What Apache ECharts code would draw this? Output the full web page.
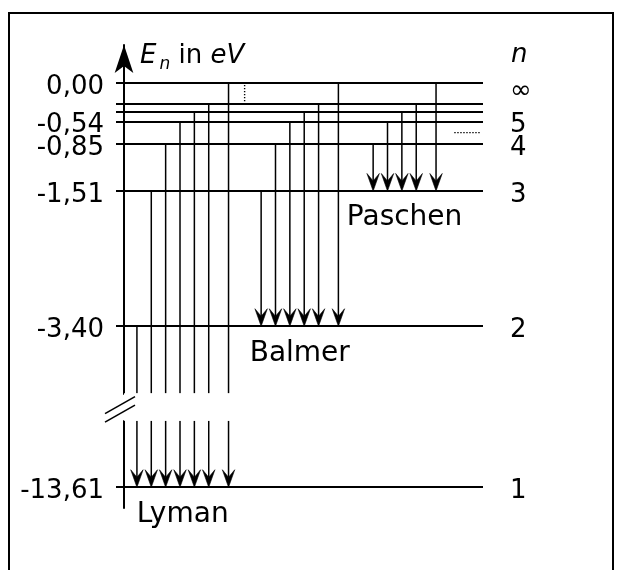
<!DOCTYPE html>
<html>
<head>
<meta charset="utf-8">
<script src="https://cdn.jsdelivr.net/npm/echarts@6/dist/echarts.min.js"></script>
<style>
  html, body { margin: 0; padding: 0; background: #fff; }
  #chart { width: 624px; height: 570px; }
</style>
</head>
<body>
<div id="chart"></div>
<script>
// Energy levels of the hydrogen atom (n = 1 … 7 and ∞), in eV
const levelN = ['1', '2', '3', '4', '5', '6', '7', '∞'];
const levelEnergy = [-13.61, -3.40, -1.51, -0.85, -0.54, -0.40, -0.29, 0.00];

// Levels that carry a label on the energy axis and in the n column
const labelledEnergy = [0.00, -0.54, -0.85, -1.51, -3.40, -13.61];
const labelledN = ['∞', '5', '4', '3', '2', '1'];

// Spectral series and the level n each one ends on
const seriesNames = ['Lyman', 'Balmer', 'Paschen'];
const seriesLowerN = ['1', '2', '3'];

// ---- layout -------------------------------------------------------------
const FONT = 'DejaVu Sans';
const X_MAX = 25;                       // width of the diagram in arrow slots
const seriesStart = [0.9, 9.55, 17.35]; // slot of the first arrow of each series
const INF_EXTRA = 0.38;                 // extra room before the transition from ∞
const BREAK = { start: -12.68, end: -4.34 };
const ARROW_H = 17.5, ARROW_W = 6.2, ARROW_NOTCH = 10;

// transitions: [x slot, upper energy, lower energy, series index]
const transitions = [];
const seriesLabels = [];
seriesLowerN.forEach((low, s) => {
  const lowIdx = levelN.indexOf(low);
  let last = 0;
  for (let k = lowIdx + 1; k < levelN.length; k++) {
    const x = seriesStart[s] + (k - lowIdx - 1) + (levelN[k] === '∞' ? INF_EXTRA : 0);
    transitions.push([x, levelEnergy[k], levelEnergy[lowIdx], s]);
    last = x;
  }
  // name written under the arrows it belongs to
  seriesLabels.push([(seriesStart[s] + last) / 2, levelEnergy[lowIdx], s]);
});

const idxOf = (arr, v) => arr.findIndex(a => Math.abs(a - v) < 1e-6);

function seg(p, q, style) {
  return { type: 'line', shape: { x1: p[0], y1: p[1], x2: q[0], y2: q[1] }, style };
}

function renderTransition(params, api) {
  const x = api.value(0), from = api.value(1), to = api.value(2);
  const top = api.coord([x, from]);
  const tip = api.coord([x, to]);
  const neck = [tip[0], tip[1] - ARROW_NOTCH];
  const st = { stroke: '#000', lineWidth: 1.5 };
  const children = [];
  if (from > BREAK.end && to < BREAK.start) {
    children.push(seg(top, api.coord([x, BREAK.end]), st));
    children.push(seg(api.coord([x, BREAK.start]), neck, st));
  } else {
    children.push(seg(top, neck, st));
  }
  children.push({
    type: 'polygon',
    shape: { points: [
      [tip[0], tip[1]],
      [tip[0] - ARROW_W, tip[1] - ARROW_H],
      [tip[0], tip[1] - ARROW_NOTCH],
      [tip[0] + ARROW_W, tip[1] - ARROW_H]
    ] },
    style: { fill: '#000', stroke: '#000', lineWidth: 0.6, lineJoin: 'miter' }
  });
  return { type: 'group', children };
}

function renderSeriesLabel(params, api) {
  const p = api.coord([api.value(0), api.value(1)]);
  return {
    type: 'text',
    x: p[0], y: p[1] + 13,
    style: {
      text: seriesNames[api.value(2)],
      font: '28px "' + FONT + '"',
      fill: '#000', align: 'center', verticalAlign: 'top'
    }
  };
}

// dotted hints for further levels / transitions, the "//" axis break mark
// and the heading of the n column
function renderDecor(params, api) {
  if (params.dataIndex > 0) return null;
  const dot = { stroke: '#000', lineWidth: 1.4, lineDash: [1.4, 1.6] };
  const v1 = api.coord([8.4, levelEnergy[7]]);
  const v2 = api.coord([8.4, levelEnergy[6]]);
  const midE = (levelEnergy[4] + levelEnergy[3]) / 2;
  const h1 = api.coord([23.0, midE]);
  const h2 = api.coord([24.8, midE]);
  const gTop = api.coord([0, BREAK.end]);
  const gBot = api.coord([0, BREAK.start]);
  const cx = gTop[0] - 4, cy = (gTop[1] + gBot[1]) / 2 + 2;
  const st = { stroke: '#000', lineWidth: 1.6 };
  const head = api.coord([X_MAX, levelEnergy[7]]);
  return {
    type: 'group',
    children: [
      seg([v1[0], v1[1] + 2], [v2[0], v2[1] - 2], dot),
      seg(h1, h2, dot),
      { type: 'rect', shape: { x: cx - 16, y: cy - 9, width: 32, height: 18 }, style: { fill: '#fff' } },
      seg([cx - 15, cy + 4.5], [cx + 15, cy - 12.5], st),
      seg([cx - 15, cy + 13], [cx + 15, cy - 4], st),
      {
        type: 'text', x: head[0] + 28, y: head[1] - 15,
        style: { text: 'n', font: 'italic 26px "' + FONT + '"', fill: '#000', align: 'left', verticalAlign: 'bottom' }
      }
    ]
  };
}

const yBase = {
  type: 'value',
  min: -13.9,
  max: 0.53,
  breaks: [{ start: BREAK.start, end: BREAK.end, gap: 0.38 }],
  breakArea: {
    show: true,
    itemStyle: { color: '#fff', borderColor: '#fff', borderWidth: 0, opacity: 1 },
    zigzagAmplitude: 0,
    zigzagZ: 100,
    expandOnClick: false
  },
  splitLine: { show: false },
  splitArea: { show: false }
};

const labelFont = { fontFamily: FONT, fontSize: 26, color: '#000', padding: [8, 0, 0, 0] };
const infFont = { fontFamily: FONT, fontSize: 26, color: '#000', padding: [17, 0, 0, 0] };

const chart = echarts.init(document.getElementById('chart'), null, { renderer: 'canvas' });
chart.setOption({
  animation: false,
  backgroundColor: '#fff',
  grid: { left: 124, right: 141, top: 45, bottom: 62 },
  xAxis: { type: 'value', min: 0, max: X_MAX, show: false },
  yAxis: [
    Object.assign({}, yBase, {
      position: 'left',
      axisLine: {
        show: true, onZero: false,
        symbol: ['none', 'arrow'], symbolSize: [14, 28],
        lineStyle: { color: '#000', width: 2 }
      },
      axisTick: { show: true, customValues: levelEnergy, length: 8, lineStyle: { color: '#000', width: 2 } },
      axisLabel: {
        customValues: labelledEnergy,
        formatter: v => '{v|' + v.toFixed(2).replace('.', ',') + '}',
        rich: { v: labelFont },
        fontFamily: FONT, fontSize: 26, color: '#000', margin: 20
      },
      name: '{i|E}{sub|n}{r| in }{i|eV}',
      nameLocation: 'end',
      nameGap: -11,
      nameMoveOverlap: false,
      nameTextStyle: {
        align: 'left', verticalAlign: 'middle', padding: [0, 0, 0, 16],
        rich: {
          i: { fontFamily: FONT, fontStyle: 'italic', fontSize: 26, lineHeight: 30, color: '#000' },
          sub: { fontFamily: FONT, fontStyle: 'italic', fontSize: 17, lineHeight: 34, verticalAlign: 'bottom', color: '#000', padding: [0, 0, 0, 3] },
          r: { fontFamily: FONT, fontSize: 26, lineHeight: 30, color: '#000' }
        }
      }
    }),
    Object.assign({}, yBase, {
      position: 'right',
      axisLine: { show: false },
      axisTick: { show: false },
      axisLabel: {
        customValues: labelledEnergy,
        formatter: v => {
          const n = labelledN[idxOf(labelledEnergy, v)];
          return (n === '∞' ? '{inf|' : '{v|') + n + '}';
        },
        rich: { v: labelFont, inf: infFont },
        fontFamily: FONT, fontSize: 26, color: '#000', margin: 27
      }
    })
  ],
  graphic: [{
    type: 'rect', z: -10,
    shape: { x: 9, y: 13, width: 604, height: 600 },
    style: { fill: 'none', stroke: '#000', lineWidth: 2 }
  }],
  series: [
    {
      name: 'Übergänge',
      type: 'custom',
      renderItem: renderTransition,
      data: transitions,
      z: 3,
      markLine: {
        silent: true,
        symbol: 'none',
        label: { show: false },
        lineStyle: { color: '#000', width: 2.2, type: 'solid' },
        data: levelEnergy.map(e => ({ yAxis: e }))
      }
    },
    {
      name: 'Serien',
      type: 'custom',
      renderItem: renderSeriesLabel,
      data: seriesLabels,
      z: 4
    },
    {
      name: 'Hinweise',
      type: 'custom',
      renderItem: renderDecor,
      data: [[0, 0]],
      z: 200
    }
  ]
});
</script>
</body>
</html>
